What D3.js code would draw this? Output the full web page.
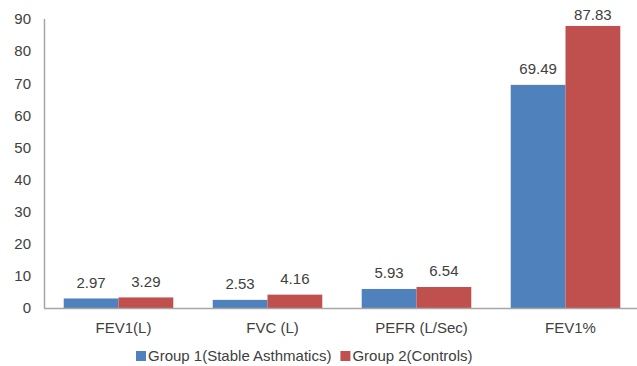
<!DOCTYPE html>
<html>
<head>
<meta charset="utf-8">
<script src="https://cdn.jsdelivr.net/npm/d3@7"></script>
<style>
  html, body { margin: 0; padding: 0; background: #fff; }
  svg text { font-family: "Liberation Sans", Arial, sans-serif; fill: #404040; }
</style>
</head>
<body>
<svg id="chart" width="637" height="366"></svg>
<script>
// Lung function parameters, stable asthmatics vs controls
const categories = ["FEV1(L)", "FVC (L)", "PEFR (L/Sec)", "FEV1%"];
const seriesNames = ["Group 1(Stable Asthmatics)", "Group 2(Controls)"];
const group1 = [2.97, 2.53, 5.93, 69.49];
const group2 = [3.29, 4.16, 6.54, 87.83];
const yTicks = [0, 10, 20, 30, 40, 50, 60, 70, 80, 90];
const colors = ["#4F81BD", "#C0504D"];

const series = [group1, group2];
const svg = d3.select("#chart");

const plot = { left: 44, right: 640, top: 19, bottom: 308 };

const x0 = d3.scaleBand()
  .domain(categories)
  .range([plot.left, plot.right])
  .paddingInner(0)
  .paddingOuter(0);

const x1 = d3.scaleBand()
  .domain(seriesNames)
  .range([0, x0.bandwidth()])
  .paddingInner(0)
  .paddingOuter(0.36);

const y = d3.scaleLinear()
  .domain([0, 90])
  .range([plot.bottom, plot.top]);

// Y axis: labels only, plus the vertical axis line
const yAxis = d3.axisLeft(y)
  .tickValues(yTicks)
  .tickSize(0)
  .tickPadding(13);

const yg = svg.append("g")
  .attr("transform", `translate(${plot.left},0)`)
  .call(yAxis);
yg.select(".domain").remove();
yg.selectAll("text")
  .attr("font-size", 15)
  .attr("font-family", "Liberation Sans, Arial, sans-serif")
  .attr("fill", "#404040");

svg.append("line")
  .attr("x1", plot.left + 0.5).attr("x2", plot.left + 0.5)
  .attr("y1", plot.top).attr("y2", plot.bottom)
  .attr("stroke", "#a6a6a6").attr("stroke-width", 1.5);

// Bars
const groups = svg.append("g").selectAll("g")
  .data(categories)
  .join("g")
  .attr("transform", d => `translate(${x0(d)},0)`);

groups.selectAll("rect")
  .data((d, i) => series.map((s, k) => ({ name: seriesNames[k], value: s[i], k })))
  .join("rect")
  .attr("x", d => x1(d.name))
  .attr("width", x1.bandwidth())
  .attr("y", d => y(d.value))
  .attr("height", d => y(0) - y(d.value))
  .attr("fill", d => colors[d.k]);

// Value labels above bars, kept inside the plot area
groups.selectAll("text.val")
  .data((d, i) => series.map((s, k) => ({ name: seriesNames[k], value: s[i], k })))
  .join("text")
  .attr("class", "val")
  .attr("x", d => x1(d.name) + x1.bandwidth() / 2)
  .attr("y", d => Math.max(y(d.value) - 10.5, plot.top + 0.5))
  .attr("text-anchor", "middle")
  .attr("font-size", 15)
  .text(d => d3.format(".2f")(d.value));

// X axis line
svg.append("line")
  .attr("x1", plot.left).attr("x2", 637)
  .attr("y1", plot.bottom + 0.5).attr("y2", plot.bottom + 0.5)
  .attr("stroke", "#a6a6a6").attr("stroke-width", 1.5);

// Category labels
svg.append("g").selectAll("text")
  .data(categories)
  .join("text")
  .attr("x", d => x0(d) + x0.bandwidth() / 2 + 5)
  .attr("y", 333)
  .attr("text-anchor", "middle")
  .attr("font-size", 15)
  .text(d => d);

// Legend
const legend = svg.append("g").attr("transform", "translate(136,361)");
let lx = 0;
seriesNames.forEach((name, k) => {
  legend.append("rect")
    .attr("x", lx).attr("y", -10)
    .attr("width", 10).attr("height", 10)
    .attr("fill", colors[k]);
  const t = legend.append("text")
    .attr("x", lx + 12)
    .attr("y", 0)
    .attr("font-size", 15)
    .text(name);
  lx += 12 + t.node().getComputedTextLength() + 9;
});
</script>
</body>
</html>
